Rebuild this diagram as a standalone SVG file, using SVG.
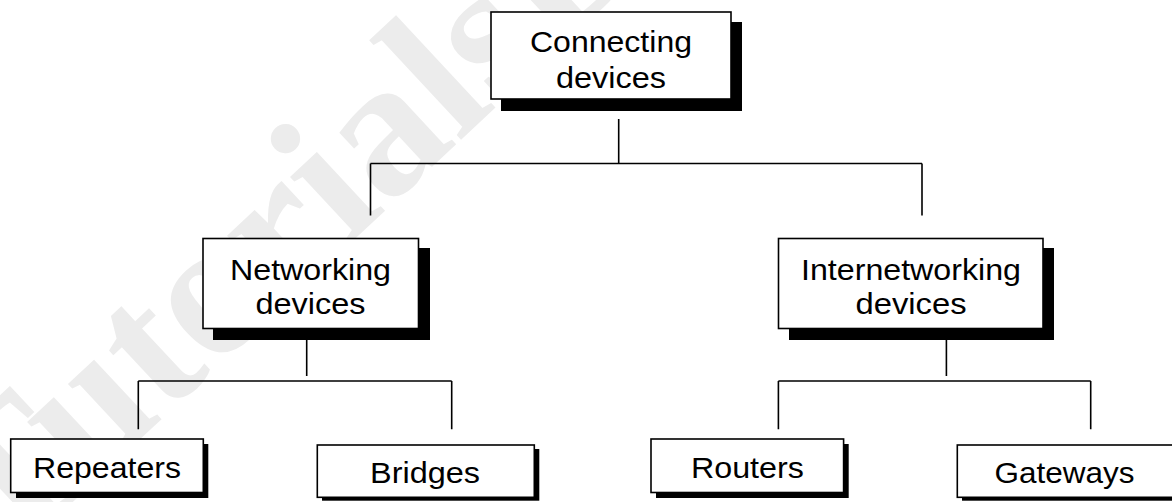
<svg xmlns="http://www.w3.org/2000/svg" width="1172" height="502" viewBox="0 0 1172 502">
<style>
.wm{font-family:"Liberation Serif","Times New Roman",serif;font-weight:bold;font-size:195px;fill:#ececec}
.box{fill:#fff;stroke:#000;stroke-width:1.6}
.sh{fill:#000}
.t{font-family:"Liberation Sans",Arial,sans-serif;font-size:29px;fill:#000;text-anchor:middle}
.c{fill:none;stroke:#000;stroke-width:1.6}
</style>
<rect width="1172" height="502" fill="#fff"/>
<text class="wm" transform="translate(4,566) rotate(-43)">TutorialsDuniya</text>
<g id="connectors">
<path class="c" d="M618.7 119V163.5M370.5 163.5H922M370.5 163.5V215.5M922 163.5V215.5"/>
<path class="c" d="M306.7 340V376M138.3 381H451.7M138.3 381V429.3M451.7 381V429.3"/>
<path class="c" d="M946.4 340V376M778.4 381H1090.7M778.4 381V429.3M1090.7 381V429.3"/>
</g>
<g id="connecting">
<rect class="sh" x="501" y="22" width="241" height="89"/>
<rect class="box" x="491" y="12" width="240" height="87"/>
<text class="t" x="611" y="52" textLength="162" lengthAdjust="spacingAndGlyphs">Connecting</text>
<text class="t" x="611" y="87.5" textLength="110" lengthAdjust="spacingAndGlyphs">devices</text>
</g>
<g id="networking">
<rect class="sh" x="213" y="248" width="217" height="92"/>
<rect class="box" x="203" y="238.5" width="215.5" height="90"/>
<text class="t" x="310.5" y="279.5" textLength="161" lengthAdjust="spacingAndGlyphs">Networking</text>
<text class="t" x="310.5" y="313.5" textLength="110" lengthAdjust="spacingAndGlyphs">devices</text>
</g>
<g id="internetworking">
<rect class="sh" x="789" y="248" width="265" height="92"/>
<rect class="box" x="778.5" y="238.5" width="264.5" height="90"/>
<text class="t" x="911" y="279.5" textLength="220" lengthAdjust="spacingAndGlyphs">Internetworking</text>
<text class="t" x="911" y="313.5" textLength="111" lengthAdjust="spacingAndGlyphs">devices</text>
</g>
<g id="repeaters">
<rect class="sh" x="16" y="444" width="192.3" height="54"/>
<rect class="box" x="10.7" y="439" width="192.6" height="53.5"/>
<text class="t" x="107" y="478" textLength="148" lengthAdjust="spacingAndGlyphs">Repeaters</text>
</g>
<g id="bridges">
<rect class="sh" x="322" y="449" width="217.3" height="51.7"/>
<rect class="box" x="317.3" y="445" width="217" height="52.3"/>
<text class="t" x="425" y="483.3" textLength="110" lengthAdjust="spacingAndGlyphs">Bridges</text>
</g>
<g id="routers">
<rect class="sh" x="656" y="444" width="192.7" height="54"/>
<rect class="box" x="651" y="439" width="192.6" height="53.5"/>
<text class="t" x="747.4" y="478" textLength="113" lengthAdjust="spacingAndGlyphs">Routers</text>
</g>
<g id="gateways">
<rect class="sh" x="962" y="449" width="230" height="51.7"/>
<rect class="box" x="957.3" y="445" width="230" height="52.3"/>
<text class="t" x="1064.6" y="483.3" textLength="140" lengthAdjust="spacingAndGlyphs">Gateways</text>
</g>
</svg>
